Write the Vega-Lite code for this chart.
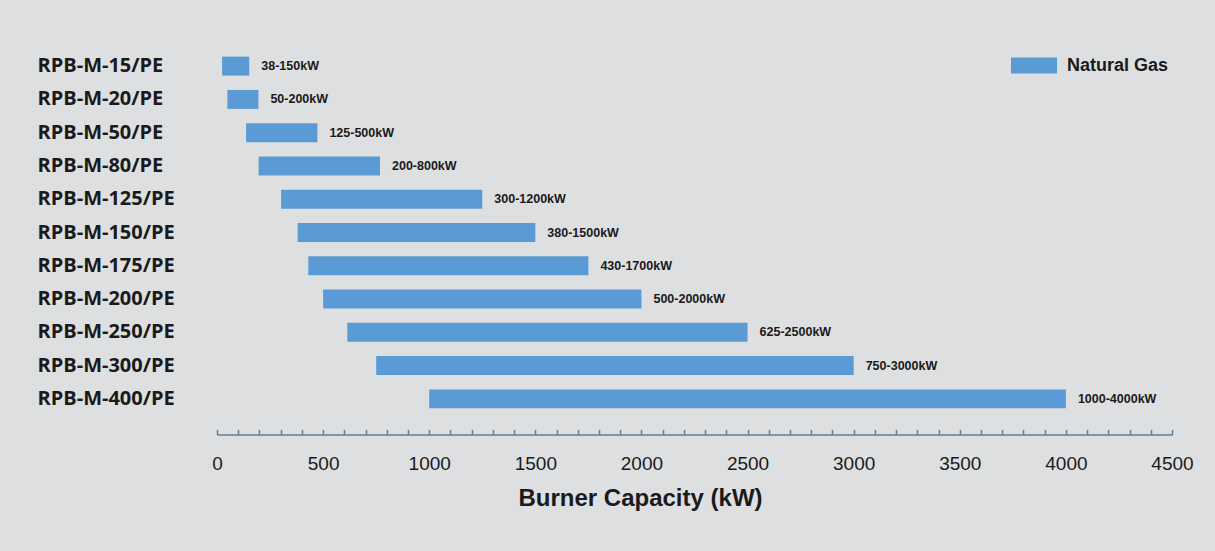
{
  "$schema": "https://vega.github.io/schema/vega-lite/v6.json",
  "autosize": {"type": "none"},
  "width": 955,
  "height": 366,
  "padding": {"left": 217, "top": 49.5, "right": 43, "bottom": 135.5},
  "background": "#dedfe1",
  "config": {"view": {"stroke": null}, "font": "Liberation Sans"},
  "data": {
    "values": [
      {"model": "RPB-M-15/PE", "min": 24, "max": 152, "label": "38-150kW"},
      {"model": "RPB-M-20/PE", "min": 49, "max": 195, "label": "50-200kW"},
      {"model": "RPB-M-50/PE", "min": 137, "max": 473, "label": "125-500kW"},
      {"model": "RPB-M-80/PE", "min": 196, "max": 768, "label": "200-800kW"},
      {"model": "RPB-M-125/PE", "min": 302, "max": 1250, "label": "300-1200kW"},
      {"model": "RPB-M-150/PE", "min": 380, "max": 1500, "label": "380-1500kW"},
      {"model": "RPB-M-175/PE", "min": 430, "max": 1750, "label": "430-1700kW"},
      {"model": "RPB-M-200/PE", "min": 500, "max": 2000, "label": "500-2000kW"},
      {"model": "RPB-M-250/PE", "min": 614, "max": 2500, "label": "625-2500kW"},
      {"model": "RPB-M-300/PE", "min": 750, "max": 3000, "label": "750-3000kW"},
      {"model": "RPB-M-400/PE", "min": 1000, "max": 4000, "label": "1000-4000kW"}
    ]
  },
  "layer": [
    {
      "mark": {"type": "bar"},
      "encoding": {
        "y": {
          "field": "model", "type": "nominal", "sort": null,
          "scale": {"paddingInner": 0.43, "paddingOuter": 0.215},
          "axis": {
            "title": null, "domain": false, "ticks": false, "tickSize": 0,
            "labelPadding": 180, "labelAlign": "left", "labelFont": "Open Sans",
            "labelFontSize": 20, "labelFontWeight": "bold", "labelColor": "#1a1a1a", "labelLimit": 400
          }
        },
        "x": {
          "field": "min", "type": "quantitative",
          "scale": {"domain": [0, 4500], "nice": false},
          "axis": {
            "values": [0,100,200,300,400,500,600,700,800,900,1000,1100,1200,1300,1400,1500,1600,1700,1800,1900,2000,2100,2200,2300,2400,2500,2600,2700,2800,2900,3000,3100,3200,3300,3400,3500,3600,3700,3800,3900,4000,4100,4200,4300,4400,4500],
            "tickCount": 200,
            "format": "d",
            "labelExpr": "datum.value % 500 === 0 ? datum.label : ''",
            "labelOverlap": false, "labelFlush": false,
            "offset": 19, "tickSize": -5, "labelPadding": 25,
            "domainColor": "#5f7f99", "tickColor": "#5f7f99", "domainWidth": 1.5, "tickWidth": 1.5,
            "grid": false, "labelFontSize": 19, "labelColor": "#1a1a1a", "labelFont": "Liberation Sans",
            "title": "Burner Capacity (kW)", "titleFontSize": 24, "titleFontWeight": "bold",
            "titleColor": "#1a1a1a", "titleFont": "Liberation Sans", "titleX": 423, "titleY": 71, "titleBaseline": "alphabetic"
          }
        },
        "x2": {"field": "max"},
        "color": {
          "datum": "Natural Gas", "type": "nominal",
          "scale": {"range": ["#5b9bd5"]},
          "legend": {
            "title": null, "orient": "none", "legendX": 794, "legendY": -7,
            "symbolType": "M-1,-0.35H1V0.35H-1Z", "symbolSize": 2116, "symbolStrokeWidth": 0,
            "labelFontSize": 18, "labelFontWeight": "bold", "labelFont": "Liberation Sans",
            "labelColor": "#1a1a1a", "labelOffset": 10, "padding": 0
          }
        }
      }
    },
    {
      "mark": {"type": "text", "align": "left", "dx": 12, "fontWeight": "bold", "fontSize": 12.5, "font": "Liberation Sans", "color": "#1a1a1a"},
      "encoding": {
        "y": {"field": "model", "type": "nominal", "sort": null},
        "x": {"field": "max", "type": "quantitative"},
        "text": {"field": "label"}
      }
    }
  ]
}
